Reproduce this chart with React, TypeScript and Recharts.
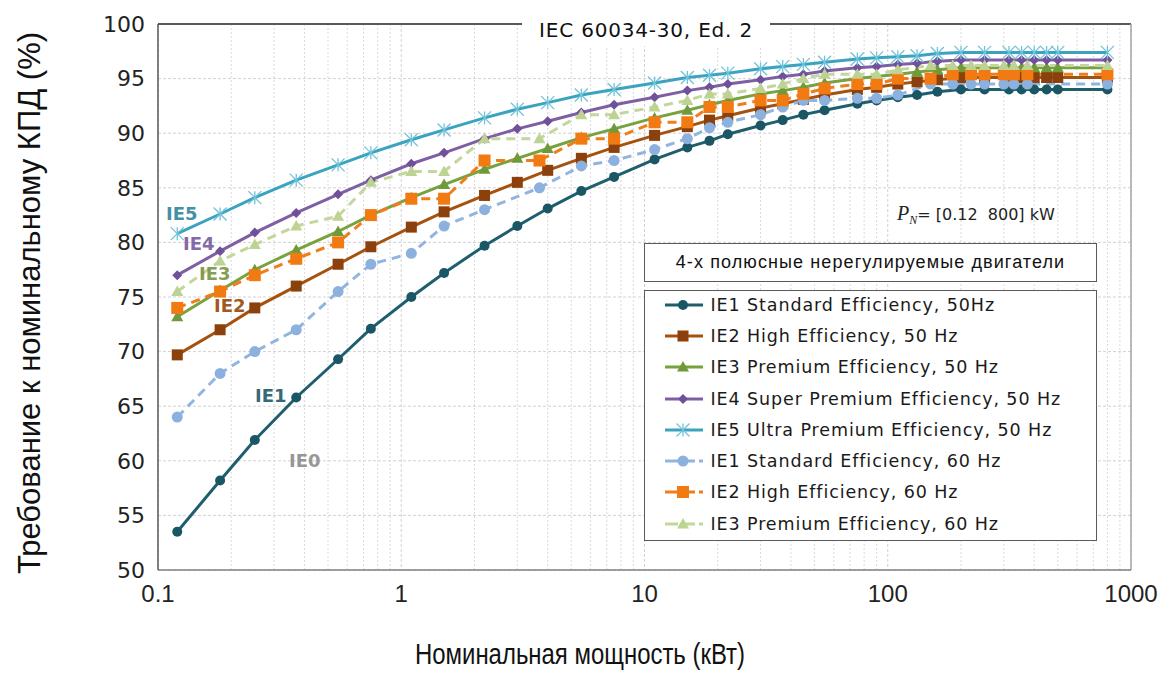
import React from "react";
import {
  LineChart,
  Line,
  XAxis,
  YAxis,
  CartesianGrid,
  Legend,
  ReferenceLine,
} from "recharts";

// rated power steps, kW
const kw50 = [0.12, 0.18, 0.25, 0.37, 0.55, 0.75, 1.1, 1.5, 2.2, 3, 4, 5.5, 7.5, 11, 15, 18.5, 22, 30, 37, 45, 55, 75, 90, 110, 132, 160, 200, 250, 315, 355, 400, 450, 500, 800];
const kw60 = [0.12, 0.18, 0.25, 0.37, 0.55, 0.75, 1.1, 1.5, 2.2, 3.7, 5.5, 7.5, 11, 15, 18.5, 22, 30, 37, 45, 55, 75, 90, 110, 150, 185, 220, 250, 300, 330, 375, 800];

// efficiency, %
const ie1_50 = [53.5, 58.2, 61.9, 65.8, 69.3, 72.1, 75.0, 77.2, 79.7, 81.5, 83.1, 84.7, 86.0, 87.6, 88.7, 89.3, 89.9, 90.7, 91.2, 91.7, 92.1, 92.7, 93.0, 93.3, 93.5, 93.8, 94.0, 94.0, 94.0, 94.0, 94.0, 94.0, 94.0, 94.0];
const ie2_50 = [69.7, 72.0, 74.0, 76.0, 78.0, 79.6, 81.4, 82.8, 84.3, 85.5, 86.6, 87.7, 88.7, 89.8, 90.6, 91.2, 91.6, 92.3, 92.7, 93.1, 93.5, 94.0, 94.2, 94.5, 94.7, 94.9, 95.1, 95.1, 95.1, 95.1, 95.1, 95.1, 95.1, 95.1];
const ie3_50 = [73.2, 75.6, 77.5, 79.3, 81.0, 82.5, 84.1, 85.3, 86.7, 87.7, 88.6, 89.6, 90.4, 91.4, 92.1, 92.6, 93.0, 93.6, 93.9, 94.2, 94.6, 95.0, 95.2, 95.4, 95.6, 95.8, 96.0, 96.0, 96.0, 96.0, 96.0, 96.0, 96.0, 96.0];
const ie4_50 = [77.0, 79.2, 80.9, 82.7, 84.4, 85.7, 87.2, 88.2, 89.5, 90.4, 91.1, 91.9, 92.6, 93.3, 93.9, 94.2, 94.5, 94.9, 95.2, 95.4, 95.7, 96.0, 96.1, 96.3, 96.4, 96.6, 96.7, 96.7, 96.7, 96.7, 96.7, 96.7, 96.7, 96.7];
const ie5_50 = [80.8, 82.6, 84.1, 85.7, 87.1, 88.2, 89.4, 90.3, 91.4, 92.2, 92.8, 93.5, 94.0, 94.6, 95.1, 95.3, 95.5, 95.9, 96.1, 96.3, 96.5, 96.8, 96.9, 97.0, 97.1, 97.3, 97.4, 97.4, 97.4, 97.4, 97.4, 97.4, 97.4, 97.4];
const ie1_60 = [64.0, 68.0, 70.0, 72.0, 75.5, 78.0, 79.0, 81.5, 83.0, 85.0, 87.0, 87.5, 88.5, 89.5, 90.5, 91.0, 91.7, 92.4, 93.0, 93.0, 93.2, 93.2, 93.5, 94.5, 94.5, 94.5, 94.5, 94.5, 94.5, 94.5, 94.5];
const ie2_60 = [74.0, 75.5, 77.0, 78.5, 80.0, 82.5, 84.0, 84.0, 87.5, 87.5, 89.5, 89.5, 91.0, 91.0, 92.4, 92.4, 93.0, 93.0, 93.6, 94.1, 94.5, 94.5, 95.0, 95.0, 95.4, 95.4, 95.4, 95.4, 95.4, 95.4, 95.4];
const ie3_60 = [75.5, 78.3, 79.8, 81.5, 82.4, 85.5, 86.5, 86.5, 89.5, 89.5, 91.7, 91.7, 92.4, 93.0, 93.6, 93.6, 94.1, 94.5, 95.0, 95.4, 95.4, 95.4, 95.8, 96.2, 96.2, 96.2, 96.2, 96.2, 96.2, 96.2, 96.2];

const xTicks = [0.1, 1, 10, 100, 1000];
const minorTicks = [0.2, 0.3, 0.4, 0.5, 0.6, 0.7, 0.8, 0.9, 2, 3, 4, 5, 6, 7, 8, 9, 20, 30, 40, 50, 60, 70, 80, 90, 200, 300, 400, 500, 600, 700, 800, 900];
const yTicks = [50, 55, 60, 65, 70, 75, 80, 85, 90, 95, 100];

const zip = (xs: number[], ys: number[]) => xs.map((x, i) => ({ kw: x, eff: ys[i] }));

type Shape = "circle" | "square" | "triangle" | "diamond" | "star";

const series = [
  { name: "IE1 Standard Efficiency, 50Hz", data: zip(kw50, ie1_50), color: "#1e5e6d", mark: "#1b5665", shape: "circle" as Shape, size: 5, dash: undefined },
  { name: "IE2 High Efficiency, 50 Hz", data: zip(kw50, ie2_50), color: "#a5520f", mark: "#8c400b", shape: "square" as Shape, size: 5.5, dash: undefined },
  { name: "IE3 Premium Efficiency, 50 Hz", data: zip(kw50, ie3_50), color: "#77a23e", mark: "#6f9a3a", shape: "triangle" as Shape, size: 6, dash: undefined },
  { name: "IE4 Super Premium Efficiency, 50 Hz", data: zip(kw50, ie4_50), color: "#7e5fa4", mark: "#70509a", shape: "diamond" as Shape, size: 5, dash: undefined },
  { name: "IE5 Ultra Premium Efficiency, 50 Hz", data: zip(kw50, ie5_50), color: "#3ba3c0", mark: "#72c3d8", shape: "star" as Shape, size: 6.5, dash: undefined },
  { name: "IE1 Standard Efficiency, 60 Hz", data: zip(kw60, ie1_60), color: "#92b5e0", mark: "#8db1de", shape: "circle" as Shape, size: 5.5, dash: "9 6" },
  { name: "IE2 High Efficiency, 60 Hz", data: zip(kw60, ie2_60), color: "#f07c1c", mark: "#f27a12", shape: "square" as Shape, size: 6, dash: "9 6" },
  { name: "IE3 Premium Efficiency, 60 Hz", data: zip(kw60, ie3_60), color: "#c3d69b", mark: "#bdd393", shape: "triangle" as Shape, size: 6, dash: "9 6" },
];

const order = series.map((s) => s.name);
const byName: Record<string, (typeof series)[number]> = {};
series.forEach((s) => (byName[s.name] = s));

function Marker({ cx, cy, shape, size, color }: { cx: number; cy: number; shape: Shape; size: number; color: string }) {
  if (cx == null || cy == null) return null;
  const s = size;
  if (shape === "circle") return <circle cx={cx} cy={cy} r={s} fill={color} />;
  if (shape === "square") return <rect x={cx - s} y={cy - s} width={s * 2} height={s * 2} fill={color} />;
  if (shape === "triangle")
    return <polygon points={`${cx},${cy - s} ${cx + s},${cy + s * 0.75} ${cx - s},${cy + s * 0.75}`} fill={color} />;
  if (shape === "diamond")
    return <polygon points={`${cx},${cy - s} ${cx + s},${cy} ${cx},${cy + s} ${cx - s},${cy}`} fill={color} />;
  return (
    <g stroke={color} strokeWidth={1.3}>
      <line x1={cx - s} y1={cy - s} x2={cx + s} y2={cy + s} />
      <line x1={cx - s} y1={cy + s} x2={cx + s} y2={cy - s} />
      <line x1={cx} y1={cy - s} x2={cx} y2={cy + s} />
    </g>
  );
}

const renderLegend = (props: any) => {
  const payload = [...(props.payload || [])].sort(
    (a: any, b: any) => order.indexOf(a.value) - order.indexOf(b.value)
  );
  return (
    <div>
      <div
        style={{
          height: 39,
          border: "1.5px solid #5a5a5a",
          boxSizing: "border-box",
          background: "#fff",
          display: "flex",
          alignItems: "center",
          justifyContent: "center",
          fontFamily: "'Liberation Sans', Arial, sans-serif",
          fontSize: 18,
          letterSpacing: 1.1,
          color: "#111",
        }}
      >
        4-х полюсные нерегулируемые двигатели
      </div>
      <div
        style={{
          marginTop: 8,
          height: 251,
          border: "1.5px solid #5a5a5a",
          boxSizing: "border-box",
          background: "#fff",
        }}
      >
        <div style={{ position: "relative", top: -2 }}>
          {payload.map((entry: any) => {
            const s = byName[entry.value];
            if (!s) return null;
            return (
              <div key={entry.value} style={{ height: 31.3, display: "flex", alignItems: "center" }}>
                <svg width={62} height={20} style={{ marginRight: 3.5, flex: "none" }}>
                  <line x1={20} x2={58} y1={10} y2={10} stroke={s.color} strokeWidth={3} strokeDasharray={s.dash ? "13 4" : undefined} />
                  <Marker cx={38} cy={10} shape={s.shape} size={s.size} color={s.mark} />
                </svg>
                <span
                  style={{
                    fontFamily: "'DejaVu Sans', sans-serif",
                    fontSize: 17.5,
                    letterSpacing: 0.9,
                    color: "#1a1a1a",
                    whiteSpace: "nowrap",
                  }}
                >
                  {entry.value}
                </span>
              </div>
            );
          })}
        </div>
      </div>
    </div>
  );
};

const tagStyle = (left: number, top: number, color: string): React.CSSProperties => ({
  position: "absolute",
  left,
  top,
  transform: "translateY(-50%)",
  fontFamily: "'DejaVu Sans', sans-serif",
  fontWeight: 700,
  fontSize: 18,
  color,
  whiteSpace: "nowrap",
  pointerEvents: "none",
  opacity: 0.9,
});

export default function App() {
  return (
    <div style={{ position: "absolute", left: 0, top: 0, width: 1165, height: 673, background: "#fff", overflow: "hidden" }}>
      <LineChart width={1165} height={673} margin={{ top: 24, right: 34, left: 0, bottom: 63 }}>
        <CartesianGrid stroke="#d2d2d2" strokeDasharray="3 2" />
        {minorTicks.map((v) => (
          <ReferenceLine key={v} x={v} stroke="#dadada" strokeDasharray="2 2" />
        ))}
        <ReferenceLine y={100} stroke="#595959" strokeWidth={2} />
        <ReferenceLine x={1000} stroke="#a6a6a6" strokeWidth={1.5} />
        <XAxis
          dataKey="kw"
          type="number"
          scale="log"
          domain={[0.1, 1000]}
          ticks={xTicks}
          interval={0}
          allowDataOverflow
          height={40}
          tickSize={0}
          tickMargin={15}
          axisLine={{ stroke: "#808080", strokeWidth: 1.5 }}
          tick={{ fontFamily: "'Liberation Sans', Arial, sans-serif", fontSize: 24, fill: "#222" }}
        />
        <YAxis
          type="number"
          domain={[50, 100]}
          ticks={yTicks}
          interval={0}
          allowDataOverflow
          width={158}
          tickSize={0}
          tickMargin={13}
          axisLine={{ stroke: "#595959", strokeWidth: 1.5 }}
          tick={{ fontFamily: "'DejaVu Sans', sans-serif", fontSize: 22, fill: "#222" }}
        />
        {series.map((s) => (
          <Line
            key={s.name}
            name={s.name}
            data={s.data}
            dataKey="eff"
            type="linear"
            stroke={s.color}
            strokeWidth={3}
            strokeDasharray={s.dash}
            isAnimationActive={false}
            activeDot={false}
            dot={(p: any) => (
              <g key={`${s.name}-${p.index}`}>
                <Marker cx={p.cx} cy={p.cy} shape={s.shape} size={s.size} color={s.mark} />
              </g>
            )}
          />
        ))}
        <Legend
          layout="vertical"
          align="center"
          verticalAlign="middle"
          width={453}
          content={renderLegend}
          wrapperStyle={{ position: "absolute", left: 644, top: 243, width: 453 }}
        />
      </LineChart>

      <div
        style={{
          position: "absolute",
          left: 522,
          top: 14,
          width: 248,
          height: 32,
          background: "#fff",
          display: "flex",
          alignItems: "center",
          justifyContent: "center",
          fontFamily: "'DejaVu Sans', sans-serif",
          fontSize: 20,
          letterSpacing: 0.8,
          color: "#111",
        }}
      >
        IEC 60034-30, Ed. 2
      </div>

      <div style={{ position: "absolute", left: 897, top: 213, transform: "translateY(-50%)", whiteSpace: "nowrap", color: "#222" }}>
        <span style={{ fontFamily: "'Liberation Serif', serif", fontStyle: "italic", fontSize: 20 }}>P</span>
        <span style={{ fontFamily: "'Liberation Serif', serif", fontStyle: "italic", fontSize: 12, position: "relative", top: 4 }}>N</span>
        <span style={{ fontFamily: "'DejaVu Sans', sans-serif", fontSize: 16 }}>= [0.12&nbsp; 800] kW</span>
      </div>

      <div style={tagStyle(166, 213, "#31859c")}>IE5</div>
      <div style={tagStyle(183, 243, "#7a5a9e")}>IE4</div>
      <div style={tagStyle(199, 273, "#779440")}>IE3</div>
      <div style={tagStyle(214, 305, "#984807")}>IE2</div>
      <div style={tagStyle(255, 395, "#22596a")}>IE1</div>
      <div style={tagStyle(289, 460, "#8c8c8c")}>IE0</div>

      <div
        style={{
          position: "absolute",
          left: 30,
          top: 303,
          transform: "translate(-50%, -50%) rotate(-90deg)",
          whiteSpace: "nowrap",
          fontFamily: "'Liberation Sans', Arial, sans-serif",
          fontSize: 31,
          color: "#111",
        }}
      >
        Требование к номинальному КПД (%)
      </div>
      <svg width={640} height={45} style={{ position: "absolute", left: 260, top: 626 }}>
        <text
          x={320}
          y={38}
          textAnchor="middle"
          textLength={330}
          lengthAdjust="spacingAndGlyphs"
          fontFamily="'Liberation Sans', Arial, sans-serif"
          fontSize={30}
          fill="#111"
        >
          Номинальная мощность (кВт)
        </text>
      </svg>
    </div>
  );
}
